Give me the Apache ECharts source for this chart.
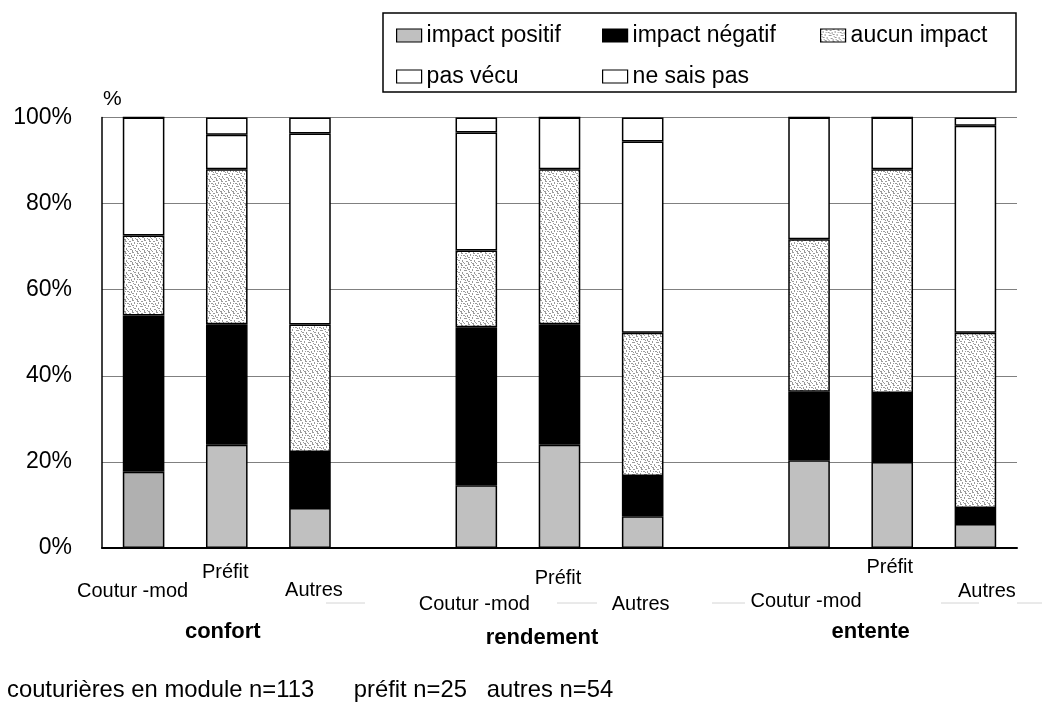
<!DOCTYPE html>
<html>
<head>
<meta charset="utf-8">
<script src="https://cdn.jsdelivr.net/npm/echarts@6/dist/echarts.min.js"></script>
<style>
  html, body { margin: 0; padding: 0; background: #fff; }
  #chart { width: 1042px; height: 704px; }
</style>
</head>
<body>
<div id="chart"></div>
<script>
// Bar slots: three groups of three, with an empty slot between groups
const categories = ['Coutur -mod', 'Préfit', 'Autres', '', 'Coutur -mod', 'Préfit', 'Autres', '', 'Coutur -mod', 'Préfit', 'Autres'];
const groupTitles = ['confort', 'rendement', 'entente'];
const groupCenterSlots = [1, 5, 9];

// Percent of respondents per answer (stacked bottom to top)
const impactPositif = [17.7, 24, 9.3, '-', 14.6, 24, 7.4, '-', 20.4, 20, 5.6];
const impactNegatif = [36.3, 28, 13.0, '-', 36.7, 28, 9.3, '-', 15.9, 16, 3.7];
const aucunImpact   = [18.6, 36, 29.6, '-', 17.8, 36, 33.3, '-', 35.4, 52, 40.7];
const pasVecu       = [27.4, 8, 44.4, '-', 27.4, 12, 44.4, '-', 28.3, 12, 48.1];
const neSaisPas     = [0, 4, 3.7, '-', 3.5, 0, 5.6, '-', 0, 0, 1.9];

const yTicks = [0, 20, 40, 60, 80, 100];
const footnote = 'couturières en module n=113      préfit n=25   autres n=54';

// Layout tweaks for the staggered slot labels: [dx, dy] from slot center / axis line
const labelOffsets = [[-11, 43], [-1.5, 24], [4, 42], null, [-2, 56], [-1.5, 30], [-2, 56], null, [-3, 53], [-2.5, 19], [11.5, 43]];
const titleOffsets = [[-4, 84], [-17.5, 90], [-21.5, 84]];
const FONT = 'Liberation Sans, Arial, sans-serif';

// Speckled grey fill for "aucun impact"
function makeSpeckle() {
  const n = 12;
  const c = document.createElement('canvas');
  c.width = n; c.height = n;
  const ctx = c.getContext('2d');
  ctx.fillStyle = '#ffffff';
  ctx.fillRect(0, 0, n, n);
  ctx.fillStyle = '#9a9a9a';
  // small clumps of dots: [x, y, w, h]
  const clumps = [
    [0, 0, 2, 1], [5, 0, 1, 2], [9, 1, 2, 1], [2, 2, 1, 2], [7, 3, 2, 1],
    [11, 3, 1, 2], [0, 5, 2, 1], [4, 5, 1, 2], [8, 6, 2, 1], [2, 8, 2, 1],
    [6, 8, 1, 2], [10, 9, 2, 1], [0, 10, 1, 2], [4, 11, 2, 1], [8, 11, 1, 1],
    [6, 1, 1, 1], [10, 6, 1, 1], [3, 10, 1, 1], [1, 7, 1, 1], [9, 4, 1, 1],
    [5, 3, 1, 1], [7, 10, 1, 1]
  ];
  clumps.forEach(([x, y, w, h]) => ctx.fillRect(x, y, w, h));
  return c;
}
const speckle = { image: makeSpeckle(), repeat: 'repeat' };

const chart = echarts.init(document.getElementById('chart'), null, { renderer: 'canvas' });

function barSeries(name, data, color) {
  return {
    name, type: 'bar', stack: 'total', data,
    barCategoryGap: '50%',
    itemStyle: { color, borderColor: '#000', borderWidth: 1.5 },
    emphasis: { disabled: true },
    animation: false
  };
}

const positifData = impactPositif.map((v, i) => i === 0 ? { value: v, itemStyle: { color: '#b0b0b0' } } : v);

const legendBase = {
  orient: 'vertical', top: 19, itemWidth: 25, itemHeight: 13, itemGap: 18,
  icon: 'rect',
  itemStyle: { borderColor: '#000', borderWidth: 1.2 },
  textStyle: { fontSize: 23, fontFamily: FONT, color: '#000', lineHeight: 23 },
  selectedMode: false
};

chart.setOption({
  animation: false,
  textStyle: { fontFamily: FONT },
  grid: { left: 102, right: 25, top: 117.5, bottom: 156, containLabel: false },
  legend: [
    Object.assign({}, legendBase, { left: 391, data: ['impact positif', 'pas vécu'] }),
    Object.assign({}, legendBase, { left: 597, data: ['impact négatif', 'ne sais pas'] }),
    Object.assign({}, legendBase, { left: 815, data: ['aucun impact'] })
  ],
  xAxis: {
    type: 'category', data: categories,
    axisLine: { lineStyle: { color: '#000', width: 2 } },
    axisTick: { show: false },
    axisLabel: { show: false }
  },
  yAxis: {
    type: 'value', min: yTicks[0], max: yTicks[yTicks.length - 1], interval: yTicks[1] - yTicks[0],
    axisLine: { show: true, lineStyle: { color: '#000', width: 1.5 } },
    axisTick: { show: false },
    axisLabel: { formatter: v => v + '%', fontSize: 23, color: '#000', margin: 30, fontFamily: FONT, padding: [4, 0, 0, 0] },
    splitLine: { lineStyle: { color: '#808080', width: 1 } }
  },
  series: [
    barSeries('impact positif', positifData, '#c0c0c0'),
    barSeries('impact négatif', impactNegatif, '#000000'),
    barSeries('aucun impact', aucunImpact, speckle),
    barSeries('pas vécu', pasVecu, '#ffffff'),
    barSeries('ne sais pas', neSaisPas, '#ffffff')
  ]
});

// Slot labels, group titles, footnote and legend frame
const axisY = chart.convertToPixel({ yAxisIndex: 0 }, 0);
const topY = chart.convertToPixel({ yAxisIndex: 0 }, 100);
const graphics = [];

categories.forEach((name, i) => {
  if (!name) return;
  const cx = chart.convertToPixel({ xAxisIndex: 0 }, i);
  const [dx, dy] = labelOffsets[i];
  graphics.push({
    type: 'text', x: cx + dx, y: axisY + dy, silent: true,
    style: { text: name, fontSize: 20, fontFamily: FONT, fill: '#000', align: 'center', verticalAlign: 'middle' }
  });
});

groupTitles.forEach((t, g) => {
  const cx = chart.convertToPixel({ xAxisIndex: 0 }, groupCenterSlots[g]);
  const [dx, dy] = titleOffsets[g];
  graphics.push({
    type: 'text', x: cx + dx, y: axisY + dy, silent: true,
    style: { text: t, fontSize: 22, fontWeight: 'bold', fontFamily: FONT, fill: '#000', align: 'center', verticalAlign: 'middle' }
  });
});

// Faint leader strokes under the slot labels
[[326, 365], [557, 597], [712, 745], [941, 979], [1017, 1042]].forEach(([x1, x2]) => {
  graphics.push({
    type: 'line', silent: true,
    shape: { x1, y1: axisY + 55, x2, y2: axisY + 55 },
    style: { stroke: '#d4d4d4', lineWidth: 1 }
  });
});

// Unit marker above the value axis
graphics.push({
  type: 'text', x: 103, y: topY - 18, silent: true,
  style: { text: '%', fontSize: 21, fontFamily: FONT, fill: '#000', align: 'left', verticalAlign: 'middle' }
});

// Sample sizes
graphics.push({
  type: 'text', x: 7, y: 690, silent: true,
  style: { text: footnote, fontSize: 23.8, fontFamily: FONT, fill: '#000', align: 'left', verticalAlign: 'middle', whiteSpace: 'pre' }
});

// Legend frame
graphics.push({
  type: 'rect', silent: true, z: -1,
  shape: { x: 383, y: 13, width: 633, height: 79 },
  style: { fill: '#fff', stroke: '#000', lineWidth: 1.5 }
});

chart.setOption({ graphic: graphics });
</script>
</body>
</html>
